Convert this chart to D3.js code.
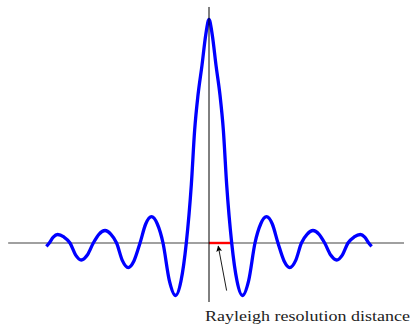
<!DOCTYPE html>
<html>
<head>
<meta charset="utf-8">
<script src="https://cdn.jsdelivr.net/npm/d3@7"></script>
<style>
  html, body { margin: 0; padding: 0; background: #fff; }
  svg { display: block; }
</style>
</head>
<body>
<svg id="chart" width="411" height="324"></svg>
<script>
// Curve samples (position, amplitude)
const curveX = [-22.35, -21.95, -21.4, -20.8, -19.95, -19.1, -18.32, -17.55, -16.72, -15.9, -15.1, -14.29, -13.5, -12.7,
                -11.9, -11.1, -10.3, -9.48, -8.7, -7.9, -7.1, -6.32, -5.45, -4.59, -3.85, -3.12,
                -2.43, -1.97, -1.51, -0.96, -0.45, 0,
                 0.45, 0.96, 1.51, 1.97, 2.43,
                 3.12, 3.85, 4.59, 5.45, 6.32, 7.1, 7.9, 8.7, 9.48, 10.3, 11.1, 11.9,
                 12.7, 13.5, 14.29, 15.1, 15.9, 16.72, 17.55, 18.32, 19.1, 19.95, 20.8, 21.4, 21.95, 22.35];
const curveY = [-0.015, 0, 0.026, 0.038, 0.027, 0, -0.054, -0.076, -0.054, 0, 0.040, 0.056, 0.040, 0,
                -0.079, -0.110, -0.079, 0, 0.085, 0.118, 0.085, 0, -0.168, -0.235, -0.170, 0,
                 0.260, 0.506, 0.662, 0.796, 0.931, 1.0,
                 0.931, 0.796, 0.662, 0.506, 0.260,
                 0, -0.170, -0.235, -0.168, 0, 0.085, 0.118, 0.085, 0, -0.079, -0.110, -0.079,
                 0, 0.040, 0.056, 0.040, 0, -0.054, -0.076, -0.054, 0, 0.027, 0.038, 0.026, 0, -0.015];
// Axis extents
const xAxisExtent = [-27.6, 26.8];
const yAxisExtent = [-0.264, 1.056];
// Rayleigh segment (origin to first zero)
const rayleigh = [0, 3.12];
// Annotation arrow: tail and head
const arrowFrom = [2.42, -0.213];
const arrowTo = [1.27, -0.014];
const labelText = "Rayleigh resolution distance";
const labelPos = [-0.55, -0.349];

const svg = d3.select("#chart");
const x = d3.scaleLinear().domain([-22.4, 22.4]).range([46, 372]);
const y = d3.scaleLinear().domain([0, 1]).range([243, 19.5]);

const defs = svg.append("defs");
defs.append("marker")
  .attr("id", "arr")
  .attr("viewBox", "0 0 10 10")
  .attr("refX", 9).attr("refY", 5)
  .attr("markerWidth", 7).attr("markerHeight", 6)
  .attr("markerUnits", "userSpaceOnUse")
  .attr("orient", "auto")
  .append("path")
  .attr("d", "M0,0 L10,5 L0,10 L2,5 Z")
  .attr("fill", "#000");

// horizontal axis (gray)
svg.append("line")
  .attr("x1", x(xAxisExtent[0])).attr("x2", x(xAxisExtent[1]))
  .attr("y1", y(0)).attr("y2", y(0))
  .attr("stroke", "#808080").attr("stroke-width", 1.6);

// red Rayleigh segment
svg.append("line")
  .attr("x1", x(rayleigh[0])).attr("x2", x(rayleigh[1]))
  .attr("y1", y(0)).attr("y2", y(0))
  .attr("stroke", "#ff0000").attr("stroke-width", 2.4);

// curve
const pts = curveX.map((v, i) => [v, curveY[i]]);
const line = d3.line().x(d => x(d[0])).y(d => y(d[1])).curve(d3.curveMonotoneX);
svg.append("path")
  .attr("d", line(pts))
  .attr("fill", "none")
  .attr("stroke", "#0000ff")
  .attr("stroke-width", 3.3)
  .attr("stroke-linejoin", "round");

// vertical axis (black)
svg.append("line")
  .attr("x1", x(0)).attr("x2", x(0))
  .attr("y1", y(yAxisExtent[0])).attr("y2", y(yAxisExtent[1]))
  .attr("stroke", "#000").attr("stroke-width", 1);

// arrow
svg.append("line")
  .attr("x1", x(arrowFrom[0])).attr("y1", y(arrowFrom[1]))
  .attr("x2", x(arrowTo[0])).attr("y2", y(arrowTo[1]))
  .attr("stroke", "#000").attr("stroke-width", 0.9)
  .attr("marker-end", "url(#arr)");

// label
svg.append("text")
  .attr("x", x(labelPos[0])).attr("y", y(labelPos[1]))
  .attr("font-family", "'Liberation Serif', 'DejaVu Serif', serif")
  .attr("font-size", 15)
  .attr("fill", "#222")
  .attr("textLength", 205)
  .attr("lengthAdjust", "spacingAndGlyphs")
  .text(labelText);
</script>
</body>
</html>
